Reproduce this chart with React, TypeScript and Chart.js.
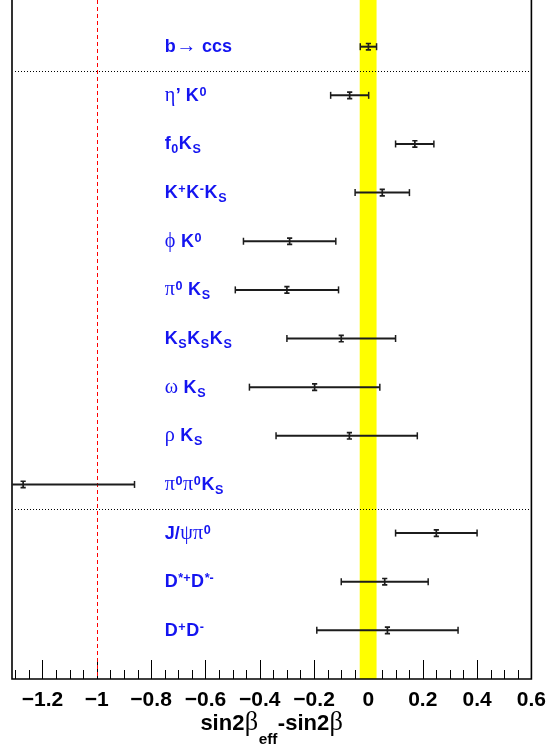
import React, { useEffect, useRef } from 'react';
import { Chart, registerables } from 'chart.js';

Chart.register(...registerables);

// ---------------- data ----------------
const channelLabels = [
  'b#rightarrow ccs',
  '#eta’ K^{0}',
  'f_{0}K_{S}',
  'K^{+}K^{-}K_{S}',
  '#phi K^{0}',
  '#pi^{0} K_{S}',
  'K_{S}K_{S}K_{S}',
  '#omega K_{S}',
  '#rho K_{S}',
  '#pi^{0}#pi^{0}K_{S}',
  'J/#psi#pi^{0}',
  'D^{*+}D^{*-}',
  'D^{+}D^{-}',
];
const deltaValues = [0.0, -0.069, 0.171, 0.051, -0.29, -0.3, -0.1, -0.198, -0.07, -1.271, 0.25, 0.06, 0.07];
const errMinus = [0.03, 0.07, 0.071, 0.1, 0.17, 0.19, 0.2, 0.24, 0.27, 0.41, 0.15, 0.16, 0.26];
const errPlus = [0.03, 0.07, 0.07, 0.1, 0.17, 0.19, 0.2, 0.24, 0.25, 0.41, 0.15, 0.16, 0.26];
const xTickValues = [-1.2, -1, -0.8, -0.6, -0.4, -0.2, 0, 0.2, 0.4, 0.6];
const xMin = -1.312;
const xMax = 0.6;
const bandRange = [-0.032, 0.03];
const referenceLine = -1;
const separatorRows = [1.5, 10.5];
const labelX = -0.75;
const axisTitle = 'sin2#beta_{eff}-sin2#beta';

// ---------------- tiny TLatex-like renderer ----------------
type Seg = { text: string; mode: 0 | 1 | 2; greek: boolean };
const SYMBOLS: Record<string, string> = {
  rightarrow: '→', eta: 'η', phi: 'ϕ', pi: 'π', omega: 'ω', rho: 'ρ', psi: 'ψ', beta: 'β',
};

function parseLatex(s: string): Seg[] {
  const out: Seg[] = [];
  const push = (text: string, mode: 0 | 1 | 2, greek: boolean) => {
    if (!text) return;
    const last = out[out.length - 1];
    if (last && last.mode === mode && last.greek === greek) last.text += text;
    else out.push({ text, mode, greek });
  };
  const run = (str: string, mode: 0 | 1 | 2) => {
    let j = 0;
    while (j < str.length) {
      const c = str[j];
      if (c === '#') {
        let k = j + 1;
        while (k < str.length && /[a-zA-Z]/.test(str[k])) k++;
        const name = str.slice(j + 1, k);
        push(SYMBOLS[name] ?? name, mode, true);
        j = k;
      } else if ((c === '_' || c === '^') && str[j + 1] === '{') {
        const end = str.indexOf('}', j + 2);
        run(str.slice(j + 2, end), c === '_' ? 1 : 2);
        j = end + 1;
      } else {
        push(c, mode, false);
        j++;
      }
    }
  };
  run(s, 0);
  return out;
}

function drawLatex(
  ctx: CanvasRenderingContext2D, s: string, x: number, y: number,
  size: number, color: string, align: 'left' | 'center', subDy: number, supDy: number,
  greekScale: number, gap: number,
) {
  const segs = parseLatex(s);
  const fontFor = (seg: Seg) => {
    const sz = seg.mode ? size * 0.7 : size;
    return seg.greek
      ? `${(sz * greekScale).toFixed(1)}px "Liberation Serif", "DejaVu Serif", serif`
      : `bold ${sz.toFixed(1)}px "Liberation Sans", Arial, sans-serif`;
  };
  const widths = segs.map((seg) => {
    ctx.font = fontFor(seg);
    return ctx.measureText(seg.text).width + gap;
  });
  const total = widths.reduce((a, b) => a + b, 0) - gap;
  let cx = align === 'center' ? x - total / 2 : x;
  ctx.fillStyle = color;
  ctx.textAlign = 'left';
  ctx.textBaseline = 'alphabetic';
  segs.forEach((seg, i) => {
    ctx.font = fontFor(seg);
    const dy = seg.mode === 1 ? subDy : seg.mode === 2 ? -supDy : 0;
    ctx.fillText(seg.text, cx, y + dy);
    cx += widths[i];
  });
}

// ---------------- custom drawing plugin ----------------
const decorPlugin = {
  id: 'decor',
  afterDraw(chart: any) {
    const { ctx, chartArea, scales } = chart;
    const xs = scales.x;
    const ys = scales.y;
    const { left, right, top, bottom } = chartArea;
    ctx.save();

    // axis tick marks (inside the frame, pointing up)
    ctx.strokeStyle = '#000';
    ctx.lineWidth = 1;
    const kMin = Math.ceil(xMin / 0.05 - 1e-9);
    const kMax = Math.floor(xMax / 0.05 + 1e-9);
    for (let k = kMin; k <= kMax; k++) {
      const px = Math.round(xs.getPixelForValue(k * 0.05)) + 0.5;
      const len = k % 4 === 0 ? 19 : 9;
      ctx.beginPath();
      ctx.moveTo(px, bottom);
      ctx.lineTo(px, bottom - len);
      ctx.stroke();
    }

    // yellow band
    const bx0 = xs.getPixelForValue(bandRange[0]);
    const bx1 = xs.getPixelForValue(bandRange[1]);
    ctx.fillStyle = '#ffff00';
    ctx.fillRect(bx0, top, bx1 - bx0, bottom - top);

    // red dashed reference line
    const rx = Math.round(xs.getPixelForValue(referenceLine)) + 0.5;
    ctx.strokeStyle = '#ff0000';
    ctx.lineWidth = 1;
    ctx.setLineDash([4, 3]);
    ctx.beginPath();
    ctx.moveTo(rx, top);
    ctx.lineTo(rx, bottom);
    ctx.stroke();

    // dotted separators
    ctx.strokeStyle = '#000';
    ctx.setLineDash([1, 2]);
    separatorRows.forEach((r) => {
      const py = Math.round(ys.getPixelForValue(r)) + 0.5;
      ctx.beginPath();
      ctx.moveTo(left + 3, py);
      ctx.lineTo(right, py);
      ctx.stroke();
    });
    ctx.setLineDash([]);

    // frame (left, right, bottom)
    ctx.strokeStyle = '#000';
    ctx.lineWidth = 1.6;
    ctx.beginPath();
    ctx.moveTo(left, top);
    ctx.lineTo(left, bottom);
    ctx.lineTo(right, bottom);
    ctx.lineTo(right, top);
    ctx.stroke();

    // error bars
    ctx.strokeStyle = '#1c1c1c';
    deltaValues.forEach((v, i) => {
      const py = ys.getPixelForValue(i + 1);
      const pc = xs.getPixelForValue(v);
      const plRaw = xs.getPixelForValue(v - errMinus[i]);
      const prRaw = xs.getPixelForValue(v + errPlus[i]);
      const pl = Math.max(plRaw, left);
      const pr = Math.min(prRaw, right);
      ctx.lineWidth = 2;
      ctx.beginPath();
      ctx.moveTo(pl, py);
      ctx.lineTo(pr, py);
      ctx.stroke();
      ctx.lineWidth = 1.5;
      [plRaw, prRaw].forEach((p) => {
        if (p < left || p > right) return;
        ctx.beginPath();
        ctx.moveTo(p, py - 3.5);
        ctx.lineTo(p, py + 3.5);
        ctx.stroke();
      });
      // central "I" marker
      ctx.lineWidth = 1.7;
      ctx.beginPath();
      ctx.moveTo(pc, py - 3.2);
      ctx.lineTo(pc, py + 3.2);
      ctx.moveTo(pc - 2.6, py - 3.2);
      ctx.lineTo(pc + 2.6, py - 3.2);
      ctx.moveTo(pc - 2.6, py + 3.2);
      ctx.lineTo(pc + 2.6, py + 3.2);
      ctx.stroke();
    });

    // channel labels
    const lx = xs.getPixelForValue(labelX);
    channelLabels.forEach((lab, i) => {
      const py = ys.getPixelForValue(i + 1);
      drawLatex(ctx, lab, lx, py + 5.5, 18, '#1414f0', 'left', 4, 5, 1.12, 0.6);
    });

    // axis title
    drawLatex(ctx, axisTitle, (left + right) / 2, 730, 22, '#000', 'center', 14, 6, 1.2, 0.4);

    ctx.restore();
  },
};

export default function App() {
  const canvasRef = useRef<HTMLCanvasElement | null>(null);

  useEffect(() => {
    const canvas = canvasRef.current;
    if (!canvas) return;
    const chart = new Chart(canvas, {
      type: 'scatter',
      data: {
        datasets: [
          {
            label: 'sin2beta_eff - sin2beta',
            data: deltaValues.map((v, i) => ({ x: v, y: i + 1 })),
            pointRadius: 0,
            pointHoverRadius: 0,
            showLine: false,
          },
        ],
      },
      options: {
        responsive: false,
        devicePixelRatio: 1,
        animation: false,
        events: [],
        layout: { padding: { left: 12, right: 20, top: 0, bottom: 0 } },
        plugins: { legend: { display: false }, tooltip: { enabled: false }, title: { display: false } },
        scales: {
          x: {
            type: 'linear',
            position: 'bottom',
            min: xMin,
            max: xMax,
            afterBuildTicks: (s: any) => {
              s.ticks = xTickValues.map((v) => ({ value: v }));
            },
            afterFit: (s: any) => {
              s.height = 74;
            },
            ticks: {
              autoSkip: false,
              maxRotation: 0,
              padding: 9,
              color: '#000',
              font: { family: '"Liberation Sans", Arial, sans-serif', size: 21, weight: 'bold' },
              callback: (v: any) => String(v).replace('-', '\u2212'),
            },
            grid: { display: false, drawTicks: false },
            border: { display: false },
          },
          y: {
            type: 'linear',
            display: false,
            min: 0.04,
            max: 14,
            reverse: true,
          },
        },
      },
      plugins: [decorPlugin],
    } as any);
    return () => chart.destroy();
  }, []);

  return (
    <div style={{ position: 'absolute', left: 0, top: 0, width: 555, height: 753, background: '#fff' }}>
      <canvas ref={canvasRef} width={555} height={753} style={{ display: 'block' }} />
    </div>
  );
}
